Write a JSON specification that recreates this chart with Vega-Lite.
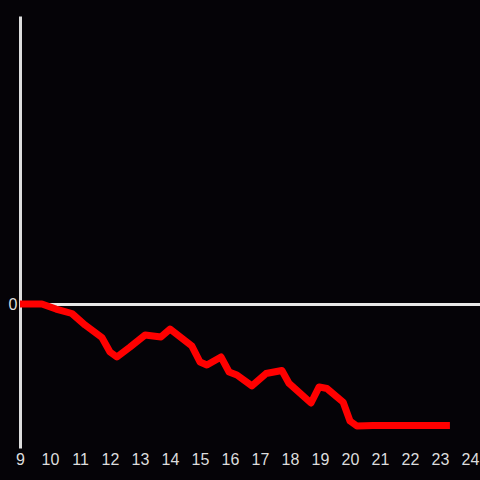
{
  "$schema": "https://vega.github.io/schema/vega-lite/v6.json",
  "width": 460,
  "height": 432,
  "autosize": {"type": "none"},
  "padding": {"left": 20, "top": 16, "right": 0, "bottom": 32},
  "background": "#050307",
  "config": {"view": {"stroke": null}},
  "data": {"values": [
    {"h": 9.0, "v": 0},
    {"h": 9.73, "v": 0},
    {"h": 10.2, "v": -3.5},
    {"h": 10.73, "v": -6.6},
    {"h": 11.17, "v": -14.6},
    {"h": 11.73, "v": -23.3},
    {"h": 12.0, "v": -33.3},
    {"h": 12.23, "v": -36.8},
    {"h": 12.67, "v": -29.9},
    {"h": 13.17, "v": -21.5},
    {"h": 13.7, "v": -22.9},
    {"h": 14.0, "v": -17.4},
    {"h": 14.73, "v": -29.2},
    {"h": 15.0, "v": -40.3},
    {"h": 15.23, "v": -42.4},
    {"h": 15.7, "v": -36.8},
    {"h": 15.97, "v": -47.2},
    {"h": 16.23, "v": -49.3},
    {"h": 16.73, "v": -56.9},
    {"h": 17.2, "v": -48.3},
    {"h": 17.73, "v": -46.2},
    {"h": 17.97, "v": -55.2},
    {"h": 18.7, "v": -68.75},
    {"h": 18.97, "v": -57.6},
    {"h": 19.23, "v": -58.7},
    {"h": 19.77, "v": -68.1},
    {"h": 20.0, "v": -81.25},
    {"h": 20.23, "v": -84.7},
    {"h": 20.77, "v": -84.4},
    {"h": 23.33, "v": -84.4}
  ]},
  "mark": {"type": "line", "color": "#ff0000", "strokeWidth": 7, "strokeJoin": "round", "strokeCap": "butt"},
  "encoding": {
    "x": {
      "field": "h", "type": "quantitative",
      "scale": {"domain": [9, 24.333], "nice": false, "zero": false},
      "axis": {
        "title": null, "values": [9,10,11,12,13,14,15,16,17,18,19,20,21,22,23,24],
        "domain": false, "ticks": false, "grid": false,
        "labelColor": "#dddddd", "labelFontSize": 16, "labelPadding": 3,
        "labelFont": "Liberation Sans", "labelFlush": false
      }
    },
    "y": {
      "field": "v", "type": "quantitative",
      "scale": {"domain": [-100, 200], "nice": false},
      "axis": {
        "title": null, "values": [0],
        "domain": true, "domainColor": "#dddddd", "domainWidth": 3,
        "ticks": false, "grid": true, "gridColor": "#e8e8e8", "gridWidth": 3,
        "labelColor": "#dddddd", "labelFontSize": 16, "labelPadding": 3,
        "labelFont": "Liberation Sans"
      }
    }
  }
}
